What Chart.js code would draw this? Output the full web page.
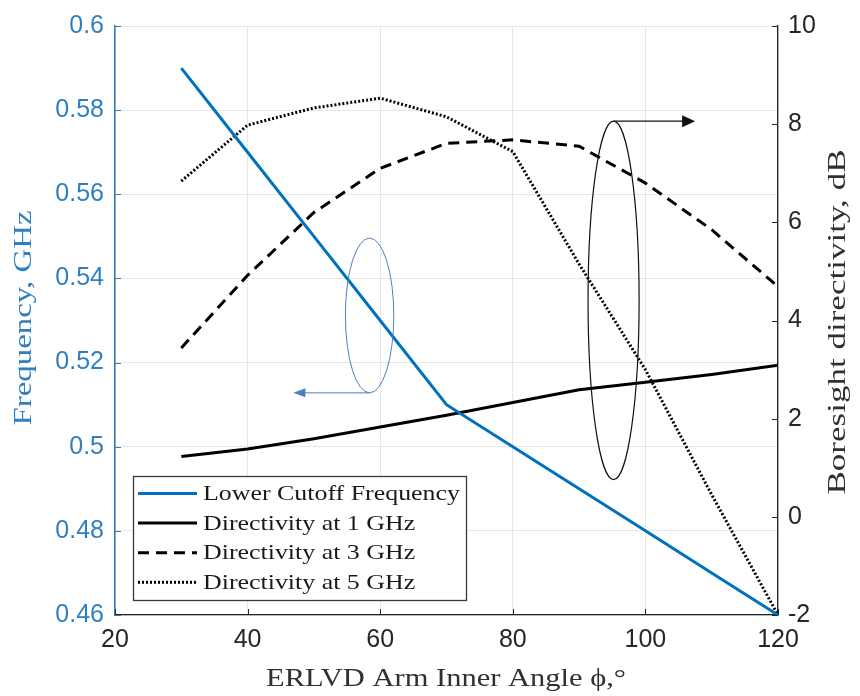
<!DOCTYPE html>
<html lang="en">
<head>
<meta charset="UTF-8">
<title>ERLVD arm inner angle</title>
<script src="https://cdn.jsdelivr.net/npm/chart.js"></script>
<style>
  html, body { margin: 0; padding: 0; background: #fff; }
  #wrap { width: 860px; height: 696px; }
</style>
</head>
<body>
<div id="wrap"><canvas id="chart" width="860" height="696"></canvas></div>
<script>
// values, one point every 10 degrees
const angles     = [30, 40, 50, 60, 70, 80, 90, 100, 110, 120];
const cutoffFreq = [0.59, 0.57, 0.55, 0.53, 0.51, 0.50, 0.49, 0.48, 0.47, 0.46];
const dir1GHz    = [1.23, 1.38, 1.59, 1.83, 2.07, 2.33, 2.59, 2.74, 2.90, 3.09];
const dir3GHz    = [3.44, 4.92, 6.20, 7.10, 7.61, 7.68, 7.55, 6.80, 5.85, 4.69];
const dir5GHz    = [6.84, 7.98, 8.33, 8.53, 8.15, 7.44, 5.15, 3.00, 0.45, -2.00];
const seriesNames = ['Lower Cutoff Frequency', 'Directivity at 1 GHz', 'Directivity at 3 GHz', 'Directivity at 5 GHz'];

const xTicks    = [20, 40, 60, 80, 100, 120];
const freqTicks = [0.46, 0.48, 0.5, 0.52, 0.54, 0.56, 0.58, 0.6];
const dirTicks  = [-2, 0, 2, 4, 6, 8, 10];

const BLUE = '#0072BD';
const AXBLUE = '#2f7fc1';
const DARK = '#262626';
const GRID = '#e6e6e6';
const SANS = '"Liberation Sans", Arial, sans-serif';
const SERIF = '"Liberation Serif", "Times New Roman", serif';

function pts(ys) { return angles.map((a, i) => ({ x: a, y: ys[i] })); }

// text squeezed/stretched to a given width (the figure uses Computer Modern, wider than Times)
function fitText(ctx, text, x, y, size, width, rot, color, align) {
  ctx.save();
  ctx.font = size + 'px ' + SERIF;
  const w = ctx.measureText(text).width;
  ctx.translate(x, y);
  if (rot) ctx.rotate(rot);
  ctx.scale(width / w, 1);
  ctx.fillStyle = color;
  ctx.textAlign = align || 'center';
  ctx.textBaseline = 'middle';
  ctx.fillText(text, 0, 0);
  ctx.restore();
}

function arrowHead(ctx, x, y, dir, len, half, color) {
  ctx.beginPath();
  ctx.moveTo(x, y);
  ctx.lineTo(x - dir * len, y - half);
  ctx.lineTo(x - dir * len, y + half);
  ctx.closePath();
  ctx.fillStyle = color;
  ctx.fill();
}

const extras = {
  id: 'extras',
  afterDatasetsDraw(chart) {
    const { ctx, scales: { x, y, y1 } } = chart;
    ctx.save();

    // inward tick marks
    ctx.lineWidth = 1;
    ctx.strokeStyle = AXBLUE;
    freqTicks.forEach(v => {
      const p = Math.round(y.getPixelForValue(v)) + 0.5;
      ctx.beginPath(); ctx.moveTo(x.left, p); ctx.lineTo(x.left + 6, p); ctx.stroke();
    });
    ctx.strokeStyle = DARK;
    dirTicks.forEach(v => {
      const p = Math.round(y1.getPixelForValue(v)) + 0.5;
      ctx.beginPath(); ctx.moveTo(x.right, p); ctx.lineTo(x.right - 6, p); ctx.stroke();
    });
    xTicks.forEach(v => {
      const p = Math.round(x.getPixelForValue(v)) + 0.5;
      ctx.beginPath(); ctx.moveTo(p, y.bottom); ctx.lineTo(p, y.bottom - 6); ctx.stroke();
    });

    // left-axis marker: ellipse round the blue curve, arrow pointing left
    let cx = x.getPixelForValue(58.4);
    let rx = x.getPixelForValue(62.05) - cx;
    let top = y.getPixelForValue(0.5496), bot = y.getPixelForValue(0.5128);
    ctx.strokeStyle = '#4a7fc0';
    ctx.lineWidth = 1;
    ctx.beginPath();
    ctx.ellipse(cx, (top + bot) / 2, rx, (bot - top) / 2, 0, 0, Math.PI * 2);
    ctx.stroke();
    let tip = x.getPixelForValue(46.9);
    ctx.beginPath(); ctx.moveTo(cx, bot); ctx.lineTo(tip + 10, bot); ctx.stroke();
    arrowHead(ctx, tip, bot, -1, 12, 4.5, '#4a7fc0');

    // right-axis marker: ellipse round the directivity curves, arrow pointing right
    cx = x.getPixelForValue(95.2);
    rx = x.getPixelForValue(99.05) - cx;
    top = y1.getPixelForValue(8.06); bot = y1.getPixelForValue(0.76);
    ctx.strokeStyle = '#111';
    ctx.lineWidth = 1.2;
    ctx.beginPath();
    ctx.ellipse(cx, (top + bot) / 2, rx, (bot - top) / 2, 0, 0, Math.PI * 2);
    ctx.stroke();
    tip = x.getPixelForValue(107.5);
    ctx.beginPath(); ctx.moveTo(cx, top); ctx.lineTo(tip - 10, top); ctx.stroke();
    arrowHead(ctx, tip, top, 1, 13, 6, '#111');

    // legend
    const lx = 133.5, ly = 476.5, lw = 333, lh = 124;
    ctx.fillStyle = '#fff';
    ctx.fillRect(lx, ly, lw, lh);
    ctx.strokeStyle = '#3a3a3a';
    ctx.lineWidth = 1.3;
    ctx.strokeRect(lx, ly, lw, lh);
    ctx.font = '21px ' + SERIF;
    const k = 257 / ctx.measureText(seriesNames[0]).width;
    chart.data.datasets.forEach((ds, i) => {
      const ry = 493.5 + i * 29.6;
      ctx.save();
      ctx.strokeStyle = ds.borderColor;
      ctx.lineWidth = 3;
      ctx.setLineDash(ds.borderDash || []);
      ctx.beginPath(); ctx.moveTo(138, ry); ctx.lineTo(197, ry); ctx.stroke();
      ctx.restore();
      ctx.save();
      ctx.font = '21px ' + SERIF;
      const w = ctx.measureText(ds.label).width * k;
      ctx.restore();
      fitText(ctx, ds.label, 203, ry + 1, 21, w, 0, '#1a1a1a', 'left');
    });

    // axis titles
    fitText(ctx, 'ERLVD Arm Inner Angle \u03d5,\u00b0', 446, 679, 25, 360, 0, '#303030');
    fitText(ctx, 'Frequency, GHz', 24, 318, 25, 215, -Math.PI / 2, AXBLUE);
    fitText(ctx, 'Boresight directivity, dB', 838, 322, 25, 345, -Math.PI / 2, '#303030');

    ctx.restore();
  }
};

const tickFont = { family: SANS, size: 25 };

new Chart(document.getElementById('chart'), {
  type: 'line',
  data: {
    datasets: [
      { label: seriesNames[0], data: pts(cutoffFreq), yAxisID: 'y', borderColor: BLUE, borderWidth: 3 },
      { label: seriesNames[1], data: pts(dir1GHz), yAxisID: 'y1', borderColor: '#000', borderWidth: 3 },
      { label: seriesNames[2], data: pts(dir3GHz), yAxisID: 'y1', borderColor: '#000', borderWidth: 3, borderDash: [11, 7] },
      { label: seriesNames[3], data: pts(dir5GHz), yAxisID: 'y1', borderColor: '#000', borderWidth: 3, borderDash: [2, 2] }
    ]
  },
  options: {
    responsive: false,
    animation: false,
    layout: { padding: { top: 20 } },
    elements: { point: { radius: 0 }, line: { tension: 0, borderCapStyle: 'butt', fill: false } },
    plugins: { legend: { display: false }, tooltip: { enabled: false } },
    scales: {
      x: {
        type: 'linear', min: 20, max: 120,
        afterBuildTicks: s => { s.ticks = xTicks.map(v => ({ value: v })); },
        afterFit: s => { s.height = 81; },
        grid: { color: GRID, drawTicks: false },
        border: { color: DARK, width: 1.3 },
        ticks: { color: DARK, font: tickFont, padding: 10, maxRotation: 0, callback: v => String(v) }
      },
      y: {
        type: 'linear', position: 'left', min: 0.46, max: 0.6,
        afterBuildTicks: s => { s.ticks = freqTicks.map(v => ({ value: v })); },
        afterFit: s => { s.width = 115; },
        grid: { color: GRID, drawTicks: false },
        border: { color: AXBLUE, width: 1.6 },
        ticks: { color: AXBLUE, font: tickFont, padding: 11, callback: v => String(Number(v.toFixed(2))) }
      },
      y1: {
        type: 'linear', position: 'right', min: -2, max: 10,
        afterBuildTicks: s => { s.ticks = dirTicks.map(v => ({ value: v })); },
        afterFit: s => { s.width = 82; },
        grid: { drawOnChartArea: false, drawTicks: false },
        border: { color: DARK, width: 1.3 },
        ticks: { color: DARK, font: tickFont, padding: 10, callback: v => String(v) }
      }
    }
  },
  plugins: [extras]
});
</script>
</body>
</html>
